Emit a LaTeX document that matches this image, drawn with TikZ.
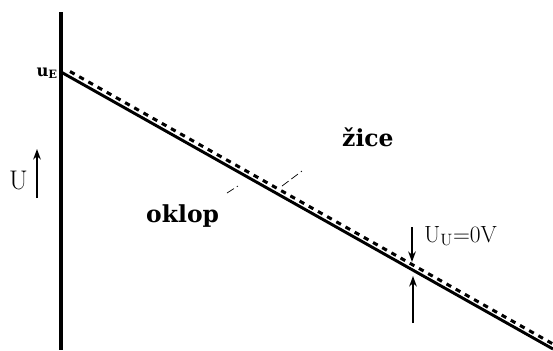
\documentclass[tikz,border=0pt]{standalone}
\usepackage{fontspec}
\usetikzlibrary{arrows.meta,positioning}
\newfontfamily\slabfont{DejaVu Serif}

\begin{document}
\begin{tikzpicture}[
  x=0.03cm, y=-0.03cm,
  axis/.style={line width=2.6pt, black},
  shield/.style={line width=2.5pt, black},
  wire/.style={line width=2.6pt, black, dash pattern=on 4.5pt off 4.5pt},
  pointer/.style={-{Stealth[length=9pt,width=6.5pt]}, line width=2.2pt},
  leader/.style={line width=0.6pt, dash pattern=on 7pt off 3pt},
  lbl/.style={font=\slabfont\bfseries\fontsize{20}{22}\selectfont, inner sep=0pt},
  val/.style={font=\fontsize{20}{22}\selectfont, inner sep=0pt},
]
\useasboundingbox (0,0) rectangle (553,350);

%% ---- axis and the two potential lines ----
\coordinate (top) at (61,12);
\coordinate (bot) at (61,350);
\coordinate (ue)  at (61,72);
\coordinate (send) at (553,349);
\coordinate (wstart) at (70,71.5);
\coordinate (wend) at (553,344);

\draw[axis] (top) -- (bot);
\draw[shield] (ue) -- (send);
\draw[wire] (wstart) -- (wend);

%% ---- labels ----
\node[lbl, anchor=base east, font=\slabfont\bfseries\fontsize{14}{16}\selectfont] (uE) at (58,76) {u\textsubscript{E}};
\node[val, anchor=base west, font=\fontsize{23}{25}\selectfont] (U) at (9,189) {U};
\node[lbl, anchor=base west] (zice) at (342,146) {žice};
\node[lbl, anchor=base west] (oklop) at (146,222) {oklop};
\node[val, anchor=base west] (uu) at (424,242) {U$_{\mathrm{U}}$=0V};

%% ---- arrows ----
\coordinate (ua) at (37,198);
\coordinate (ub) at (37,149);
\draw[pointer] (ua) -- (ub);

\coordinate (da) at (412,227);
\coordinate (db) at (412,262);
\draw[pointer] (da) -- (db);

\coordinate (pa) at (413,323);
\coordinate (pb) at (413,276);
\draw[pointer] (pa) -- (pb);

%% ---- leaders ----
\coordinate (z1) at (282,186);
\coordinate (z2) at (302,171);
\draw[leader] (z1) -- (z2);
\coordinate (o1) at (227,193);
\coordinate (o2) at (238,186);
\draw[leader] (o1) -- (o2);

\end{tikzpicture}
\end{document}
